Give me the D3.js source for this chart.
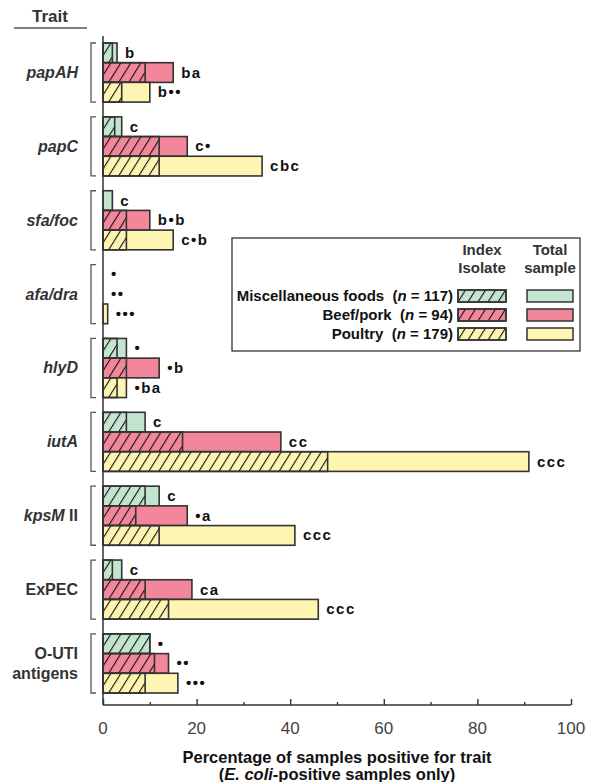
<!DOCTYPE html>
<html>
<head>
<meta charset="utf-8">
<script src="https://cdn.jsdelivr.net/npm/d3@7"></script>
<style>
  body { margin: 0; background: #fff; }
  svg { display: block; font-family: "Liberation Sans", Arial, sans-serif; }
</style>
</head>
<body>
<div id="chart"></div>
<script>
// data (percent of E. coli-positive samples)
var traits = ["papAH", "papC", "sfa/foc", "afa/dra", "hlyD", "iutA", "kpsM II", "ExPEC", "O-UTI antigens"];
var sources = ["Miscellaneous foods", "Beef/pork", "Poultry"];
var sampleSizes = [117, 94, 179];

var indexMisc = [2, 2.5, 0, 0, 3, 5, 9, 2, 10];
var totalMisc = [3, 4, 2, 0, 5, 9, 12, 4, 10];
var indexBeef = [9, 12, 5, 0, 5, 17, 7, 9, 11];
var totalBeef = [15, 18, 10, 0, 12, 38, 18, 19, 14];
var indexPoultry = [4, 12, 5, 0, 3, 48, 12, 14, 9];
var totalPoultry = [10, 34, 15, 1, 5, 91, 41, 46, 16];

var marksMisc = ["b", "c", "c", "•", "•", "c", "c", "c", "•"];
var marksBeef = ["ba", "c•", "b•b", "••", "•b", "cc", "•a", "ca", "••"];
var marksPoultry = ["b••", "cbc", "c•b", "•••", "•ba", "ccc", "ccc", "ccc", "•••"];

var xTicks = [0, 20, 40, 60, 80, 100];

var colors = ["#c3e5cf", "#f2879c", "#fff5b2"];
var ink = "#333";

var W = 597, H = 782;
var x0 = 103, x1 = 571;

var svg = d3.select("#chart").append("svg")
    .attr("width", W)
    .attr("height", H);

// hatch pattern: steep "/" lines
var defs = svg.append("defs");
defs.append("pattern")
    .attr("id", "hatch")
    .attr("patternUnits", "userSpaceOnUse")
    .attr("width", 8.5)
    .attr("height", 8.5)
    .attr("patternTransform", "rotate(32)")
  .append("line")
    .attr("x1", 0).attr("y1", -1)
    .attr("x2", 0).attr("y2", 10)
    .attr("stroke", "#111")
    .attr("stroke-width", 2.2);

var x = d3.scaleLinear().domain([0, 100]).range([x0, x1]);
var y = d3.scaleBand().domain(traits).range([43, 693]).paddingInner(0.2).paddingOuter(0);
var ySub = d3.scaleBand().domain(sources).range([0, y.bandwidth()]);

// rows for bars
var rows = [];
traits.forEach(function (t, i) {
    rows.push({trait: t, src: sources[0], k: 0, index: indexMisc[i], total: totalMisc[i], mark: marksMisc[i]});
    rows.push({trait: t, src: sources[1], k: 1, index: indexBeef[i], total: totalBeef[i], mark: marksBeef[i]});
    rows.push({trait: t, src: sources[2], k: 2, index: indexPoultry[i], total: totalPoultry[i], mark: marksPoultry[i]});
});

var bar = svg.append("g").selectAll("g")
    .data(rows)
    .enter().append("g")
    .attr("transform", (d) => "translate(0," + (y(d.trait) + ySub(d.src)) + ")");

var bh = ySub.bandwidth();

bar.filter((d) => d.total > 0).append("rect")
    .attr("x", x(0))
    .attr("width", (d) => x(d.total) - x(0))
    .attr("height", bh)
    .attr("fill", (d) => colors[d.k])
    .attr("stroke", ink)
    .attr("stroke-width", 1.6);

bar.filter((d) => d.index > 0).append("rect")
    .attr("x", x(0))
    .attr("width", (d) => x(d.index) - x(0))
    .attr("height", bh)
    .attr("fill", "url(#hatch)")
    .attr("stroke", ink)
    .attr("stroke-width", 1.6);

bar.append("text")
    .attr("x", (d) => x(d.total) + 8)
    .attr("y", bh / 2 + 5)
    .attr("font-size", 15)
    .attr("font-weight", "bold")
    .attr("letter-spacing", 1.5)
    .attr("fill", "#111")
    .text((d) => d.mark);

// brackets and trait labels
var grp = svg.append("g").selectAll("g")
    .data(traits)
    .enter().append("g")
    .attr("transform", (d) => "translate(0," + y(d) + ")");

grp.append("path")
    .attr("d", "M96,0 H91 V" + y.bandwidth() + " H96")
    .attr("fill", "none")
    .attr("stroke", "#555")
    .attr("stroke-width", 1.3);

var italicNames = ["papAH", "papC", "sfa/foc", "afa/dra", "hlyD", "iutA", "kpsM"];

grp.each(function (t) {
    var g = d3.select(this);
    var cy = y.bandwidth() / 2;
    var lines = t === "O-UTI antigens" ? ["O-UTI", "antigens"] : [t];
    lines.forEach(function (line, li) {
        var txt = g.append("text")
            .attr("x", 78)
            .attr("y", cy + 5.5 + (li - (lines.length - 1) / 2) * 20)
            .attr("text-anchor", "end")
            .attr("font-size", 16)
            .attr("font-weight", "bold")
            .attr("fill", ink);
        line.split(/(\s+)/).forEach(function (w) {
            txt.append("tspan")
                .attr("font-style", italicNames.indexOf(w) >= 0 ? "italic" : "normal")
                .text(w);
        });
    });
});

// axes
svg.append("line")
    .attr("x1", x0).attr("x2", x0)
    .attr("y1", 36).attr("y2", 705)
    .attr("stroke", ink).attr("stroke-width", 1.5);

var xAxis = svg.append("g")
    .attr("transform", "translate(0,705)")
    .call(d3.axisBottom(x).tickValues(d3.range(0, 101, 10)).tickSize(-3).tickFormat(""));
xAxis.select(".domain").attr("stroke", ink).attr("stroke-width", 1.5)
    .attr("d", "M" + x0 + ",0H" + x1);
xAxis.selectAll(".tick line")
    .attr("stroke", ink).attr("stroke-width", 1.4)
    .attr("y2", (d) => d % 20 === 0 ? -6 : -3);

svg.append("g").selectAll("text")
    .data(xTicks)
    .enter().append("text")
    .attr("x", (d) => x(d))
    .attr("y", 734)
    .attr("text-anchor", "middle")
    .attr("font-size", 17)
    .attr("fill", "#444")
    .text((d) => d);

var title = svg.append("g").attr("font-size", 16.5).attr("font-weight", "bold").attr("fill", "#111");
title.append("text")
    .attr("x", x(50)).attr("y", 763)
    .attr("text-anchor", "middle")
    .text("Percentage of samples positive for trait");
var t2 = title.append("text")
    .attr("x", x(50)).attr("y", 780)
    .attr("text-anchor", "middle");
t2.append("tspan").text("(");
t2.append("tspan").attr("font-style", "italic").text("E. coli");
t2.append("tspan").text("-positive samples only)");

// "Trait" header
svg.append("text")
    .attr("x", 50).attr("y", 22)
    .attr("text-anchor", "middle")
    .attr("font-size", 17)
    .attr("font-weight", "bold")
    .attr("fill", ink)
    .text("Trait");
svg.append("line")
    .attr("x1", 14).attr("x2", 87)
    .attr("y1", 28).attr("y2", 28)
    .attr("stroke", "#555").attr("stroke-width", 1.5);

// legend
var leg = svg.append("g");
leg.append("rect")
    .attr("x", 232).attr("y", 238)
    .attr("width", 348).attr("height", 113)
    .attr("fill", "#fff")
    .attr("stroke", "#222").attr("stroke-width", 1.2);

var hdr = leg.append("g").attr("font-size", 15).attr("font-weight", "bold")
    .attr("fill", ink).attr("text-anchor", "middle");
hdr.append("text").attr("x", 482).attr("y", 255).text("Index");
hdr.append("text").attr("x", 482).attr("y", 273).text("Isolate");
hdr.append("text").attr("x", 550).attr("y", 255).text("Total");
hdr.append("text").attr("x", 550).attr("y", 273).text("sample");

var legRow = leg.selectAll(".legRow")
    .data(sources)
    .enter().append("g")
    .attr("class", "legRow")
    .attr("transform", (d, i) => "translate(0," + (296 + i * 19) + ")");

var lt = legRow.append("text")
    .attr("x", 453).attr("y", 5)
    .attr("text-anchor", "end")
    .attr("font-size", 15)
    .attr("font-weight", "bold")
    .attr("fill", "#111");
lt.append("tspan").text((d) => d + "\u00a0\u00a0(");
lt.append("tspan").attr("font-style", "italic").text("n");
lt.append("tspan").text((d, i) => " = " + sampleSizes[i] + ")");

legRow.append("rect")
    .attr("x", 458).attr("y", -6)
    .attr("width", 48).attr("height", 12)
    .attr("fill", (d, i) => colors[i])
    .attr("stroke", ink).attr("stroke-width", 1.5);
legRow.append("rect")
    .attr("x", 458).attr("y", -6)
    .attr("width", 48).attr("height", 12)
    .attr("fill", "url(#hatch)")
    .attr("stroke", ink).attr("stroke-width", 1.5);
legRow.append("rect")
    .attr("x", 527).attr("y", -6)
    .attr("width", 46).attr("height", 12)
    .attr("fill", (d, i) => colors[i])
    .attr("stroke", ink).attr("stroke-width", 1.5);
</script>
</body>
</html>
